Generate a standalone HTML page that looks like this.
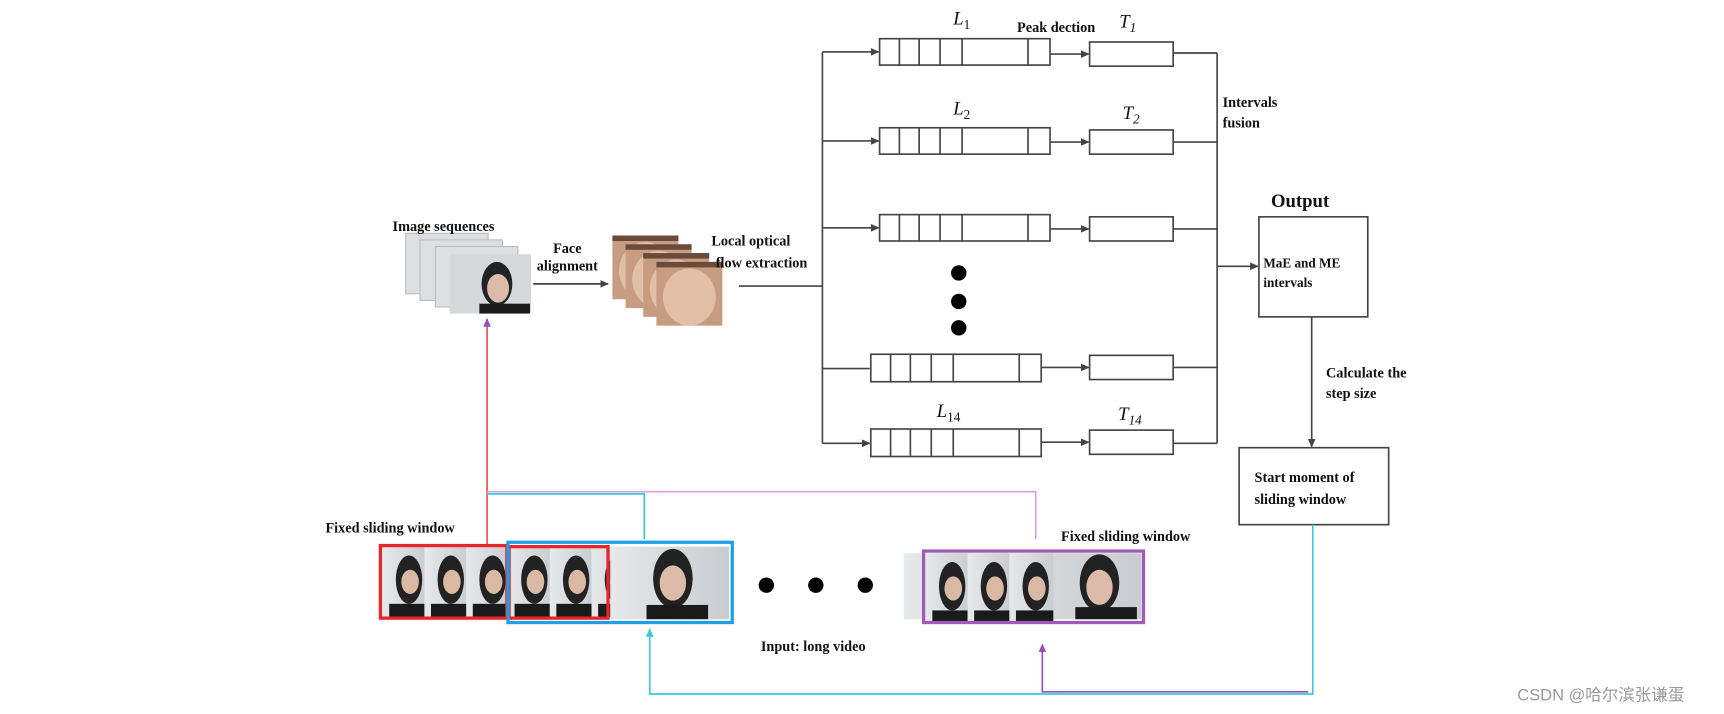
<!DOCTYPE html>
<html><head><meta charset="utf-8"><style>
html,body{margin:0;padding:0;background:#fff;}
svg{display:block}
text{font-family:"Liberation Serif",serif;font-weight:bold;fill:#111;}
text.n{font-weight:normal;font-style:italic;}
</style></head><body>
<svg width="1724" height="714" viewBox="0 0 1568 649" xmlns="http://www.w3.org/2000/svg">
<defs>
<marker id="a" markerWidth="8" markerHeight="8" refX="7" refY="4" orient="auto" markerUnits="userSpaceOnUse"><path d="M0,0.5 L8,4 L0,7.5z" fill="#444"/></marker>
<marker id="ac" markerWidth="8" markerHeight="8" refX="7" refY="4" orient="auto" markerUnits="userSpaceOnUse"><path d="M0,0.5 L8,4 L0,7.5z" fill="#3cc8d8"/></marker>
<marker id="ap" markerWidth="8" markerHeight="8" refX="7" refY="4" orient="auto" markerUnits="userSpaceOnUse"><path d="M0,0.5 L8,4 L0,7.5z" fill="#9a4fc0"/></marker>
<linearGradient id="bg" x1="0" x2="1"><stop offset="0" stop-color="#e6e8ea"/><stop offset="1" stop-color="#c9ccd0"/></linearGradient>
<g id="ph">
<rect width="40" height="64" fill="url(#bg)"/>
<ellipse cx="24" cy="30" rx="12" ry="22" fill="#222"/>
<ellipse cx="25" cy="32" rx="8" ry="11" fill="#d9b8a4"/>
<rect x="6" y="52" width="34" height="12" fill="#1a1a1a"/>
</g>
<g id="face"><rect width="60" height="58" fill="#c89c80"/><ellipse cx="30" cy="32" rx="24" ry="26" fill="#e2c0a8"/><rect width="60" height="5" fill="#6a4a38"/></g>
</defs>

<g>
<rect x="369" y="212" width="75" height="55" fill="#dde0e3" stroke="#bbb"/>
<rect x="382" y="218" width="75" height="55" fill="#dde0e3" stroke="#bbb"/>
<rect x="396" y="224" width="75" height="55" fill="#dde0e3" stroke="#bbb"/>
<rect x="409" y="231" width="74" height="54" fill="#d6d9dc"/>
<ellipse cx="452" cy="258" rx="14" ry="20" fill="#222"/>
<ellipse cx="453" cy="262" rx="10" ry="13" fill="#dcbca8"/>
<rect x="436" y="276" width="46" height="9" fill="#1a1a1a"/>
</g>
<text x="357" y="210" font-size="13">Image sequences</text>
<line x1="485" y1="258" x2="553" y2="258" stroke="#444" stroke-width="1.5" marker-end="url(#a)"/>
<text x="516" y="230" font-size="13" text-anchor="middle">Face</text>
<text x="516" y="246" font-size="13" text-anchor="middle">alignment</text>
<use href="#face" x="557" y="214"/>
<use href="#face" x="569" y="222"/>
<use href="#face" x="585" y="230"/>
<use href="#face" x="597" y="238"/>
<text x="647" y="223" font-size="13">Local optical</text>
<text x="651" y="243" font-size="13">flow extraction</text>

<g stroke="#444" stroke-width="1.5" fill="none">
<line x1="672" y1="260" x2="748" y2="260"/>
<line x1="748" y1="47" x2="748" y2="403"/>
<line x1="748" y1="47" x2="799" y2="47" marker-end="url(#a)"/>
<line x1="748" y1="128" x2="799" y2="128" marker-end="url(#a)"/>
<line x1="748" y1="207" x2="799" y2="207" marker-end="url(#a)"/>
<line x1="748" y1="335" x2="791" y2="335"/>
<line x1="748" y1="403" x2="791" y2="403" marker-end="url(#a)"/>
<rect x="800" y="35" width="155" height="24"/><path d="M818,35v24M836,35v24M855,35v24M875,35v24M935,35v24"/>
<rect x="800" y="116" width="155" height="24"/><path d="M818,116v24M836,116v24M855,116v24M875,116v24M935,116v24"/>
<rect x="800" y="195" width="155" height="24"/><path d="M818,195v24M836,195v24M855,195v24M875,195v24M935,195v24"/>
<rect x="792" y="322" width="155" height="25"/><path d="M810,322v25M828,322v25M847,322v25M867,322v25M927,322v25"/>
<rect x="792" y="390" width="155" height="25"/><path d="M810,390v25M828,390v25M847,390v25M867,390v25M927,390v25"/>
<line x1="955" y1="49" x2="990" y2="49" marker-end="url(#a)"/>
<line x1="955" y1="129" x2="990" y2="129" marker-end="url(#a)"/>
<line x1="955" y1="208" x2="990" y2="208" marker-end="url(#a)"/>
<line x1="947" y1="334" x2="990" y2="334" marker-end="url(#a)"/>
<line x1="947" y1="402" x2="990" y2="402" marker-end="url(#a)"/>
<rect x="991" y="38" width="76" height="22"/>
<rect x="991" y="118" width="76" height="22"/>
<rect x="991" y="197" width="76" height="22"/>
<rect x="991" y="323" width="76" height="22"/>
<rect x="991" y="391" width="76" height="22"/>
<path d="M1067,48H1107M1067,129H1107M1067,208H1107M1067,334H1107M1067,403H1107M1107,48V403"/>
<line x1="1107" y1="242" x2="1144" y2="242" marker-end="url(#a)"/>
<rect x="1145" y="197" width="99" height="91"/>
<line x1="1193" y1="288" x2="1193" y2="406" marker-end="url(#a)"/>
<rect x="1127" y="407" width="136" height="70"/>
</g>
<circle cx="872" cy="248" r="7" fill="#000"/><circle cx="872" cy="274" r="7" fill="#000"/><circle cx="872" cy="298" r="7" fill="#000"/>

<text class="n" x="867" y="22" font-size="17">L<tspan font-size="12" font-style="normal" dy="4">1</tspan></text>
<text x="925" y="29" font-size="13">Peak dection</text>
<text class="n" x="1018" y="25" font-size="17">T<tspan font-size="12" dy="4">1</tspan></text>
<text class="n" x="867" y="104" font-size="17">L<tspan font-size="12" font-style="normal" dy="4">2</tspan></text>
<text class="n" x="1021" y="108" font-size="17">T<tspan font-size="12" dy="4">2</tspan></text>
<text class="n" x="852" y="379" font-size="17">L<tspan font-size="12" font-style="normal" dy="4">14</tspan></text>
<text class="n" x="1017" y="382" font-size="17">T<tspan font-size="12" dy="4">14</tspan></text>
<text x="1112" y="97" font-size="13">Intervals</text>
<text x="1112" y="116" font-size="13">fusion</text>
<text x="1156" y="188" font-size="17">Output</text>
<text x="1149" y="243" font-size="12">MaE and ME</text>
<text x="1149" y="261" font-size="12">intervals</text>
<text x="1206" y="343" font-size="13">Calculate the</text>
<text x="1206" y="362" font-size="13">step size</text>
<text x="1141" y="438" font-size="13">Start moment of</text>
<text x="1141" y="458" font-size="13">sliding window</text>

<g fill="none" stroke-width="1.5">
<line x1="443" y1="495" x2="443" y2="290" stroke="#e8504f" marker-end="url(#ap)"/>
<path d="M443,447H942V490" stroke="#d9a0e8"/>
<path d="M443,449H586V490" stroke="#3cc8d8"/>
<path d="M1194,477V631H591V572" stroke="#3cc8d8" marker-end="url(#ac)"/>
<path d="M1190,629H948V586" stroke="#9a4fc0" marker-end="url(#ap)"/>
</g>

<g>
<use href="#ph" x="348" y="497"/><use href="#ph" x="386" y="497"/><use href="#ph" x="424" y="497"/>
<use href="#ph" x="462" y="497"/><use href="#ph" x="500" y="497"/><use href="#ph" x="538" y="497"/>
<rect x="555" y="497" width="108" height="66" fill="url(#bg)"/>
<ellipse cx="612" cy="526" rx="18" ry="27" fill="#222"/><ellipse cx="612" cy="530" rx="12" ry="16" fill="#dcbca8"/><rect x="588" y="550" width="56" height="13" fill="#1a1a1a"/>
<rect x="822" y="503" width="216" height="60" fill="url(#bg)"/>
<use href="#ph" x="842" y="503"/><use href="#ph" x="880" y="503"/><use href="#ph" x="918" y="503"/>
<ellipse cx="1000" cy="530" rx="18" ry="26" fill="#222"/><ellipse cx="1000" cy="534" rx="12" ry="16" fill="#dcbca8"/><rect x="978" y="552" width="56" height="11" fill="#1a1a1a"/>
</g>
<rect x="346" y="496" width="115" height="66" fill="none" stroke="#e8252a" stroke-width="3"/>
<rect x="463" y="497" width="90" height="65" fill="none" stroke="#e8252a" stroke-width="3"/>
<rect x="462" y="493" width="204" height="73" fill="none" stroke="#1ea0e6" stroke-width="3"/>
<rect x="840" y="501" width="200" height="65" fill="none" stroke="#a05ab8" stroke-width="3"/>
<circle cx="697" cy="532" r="7" fill="#000"/><circle cx="742" cy="532" r="7" fill="#000"/><circle cx="787" cy="532" r="7" fill="#000"/>
<text x="296" y="484" font-size="13">Fixed sliding window</text>
<text x="965" y="492" font-size="13">Fixed sliding window</text>
<text x="692" y="592" font-size="13">Input: long video</text>
<text x="1380" y="637" font-size="15" style="font-weight:normal;font-family:'Liberation Sans','Noto Sans CJK SC',sans-serif;fill:#999">CSDN @哈尔滨张谦蛋</text>
</svg>
</body></html>
